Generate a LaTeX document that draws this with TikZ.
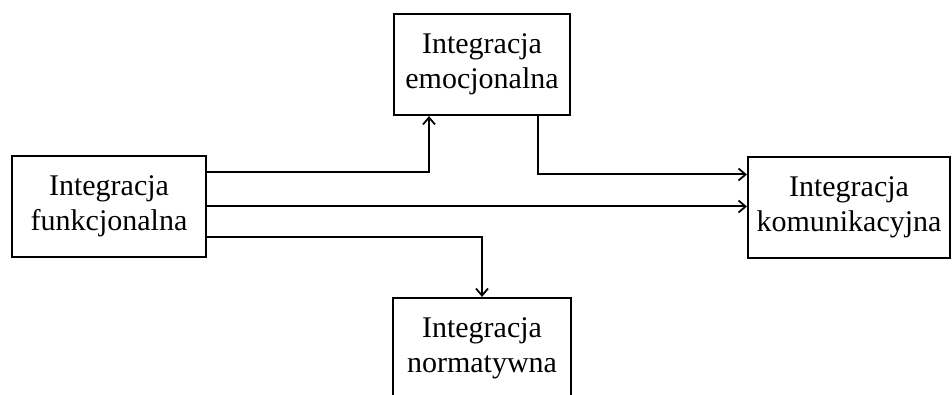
\documentclass[tikz,border=0pt]{standalone}
\usepackage{fontspec}
\setmainfont{Liberation Serif}
\usetikzlibrary{arrows.meta}
\begin{document}
\begin{tikzpicture}[x=1pt,y=-1pt,
  box/.style={draw, line width=2.2pt, inner sep=0pt, align=center,
    font=\fontsize{30}{35}\selectfont},
  arr/.style={line width=2pt, -{Straight Barb[length=7pt,width=12pt,line width=1.8pt]}}]
\useasboundingbox (0,0) rectangle (952,395);
\clip (0,0) rectangle (952,395);
\node[box, minimum width=194pt, minimum height=101pt] (fun) at (109,206.5) {Integracja\\funkcjonalna};
\node[box, minimum width=176pt, minimum height=101pt] (emo) at (482,64.5) {Integracja\\emocjonalna};
\node[box, minimum width=178pt, minimum height=101pt] (nor) at (482,348.5) {Integracja\\normatywna};
\node[box, minimum width=202pt, minimum height=101pt] (kom) at (849,207.5) {Integracja\\komunikacyjna};
% connectors
\draw[arr] ([yshift=34pt]fun.east) -| ([xshift=-53pt]emo.south);
\draw[arr] ([xshift=56pt]emo.south) |- ([yshift=33pt]kom.west);
\draw[arr] (fun.east) -- (fun.east -| kom.west);
\draw[arr] ([yshift=-31pt]fun.east) -| (nor.north);
\end{tikzpicture}
\end{document}
